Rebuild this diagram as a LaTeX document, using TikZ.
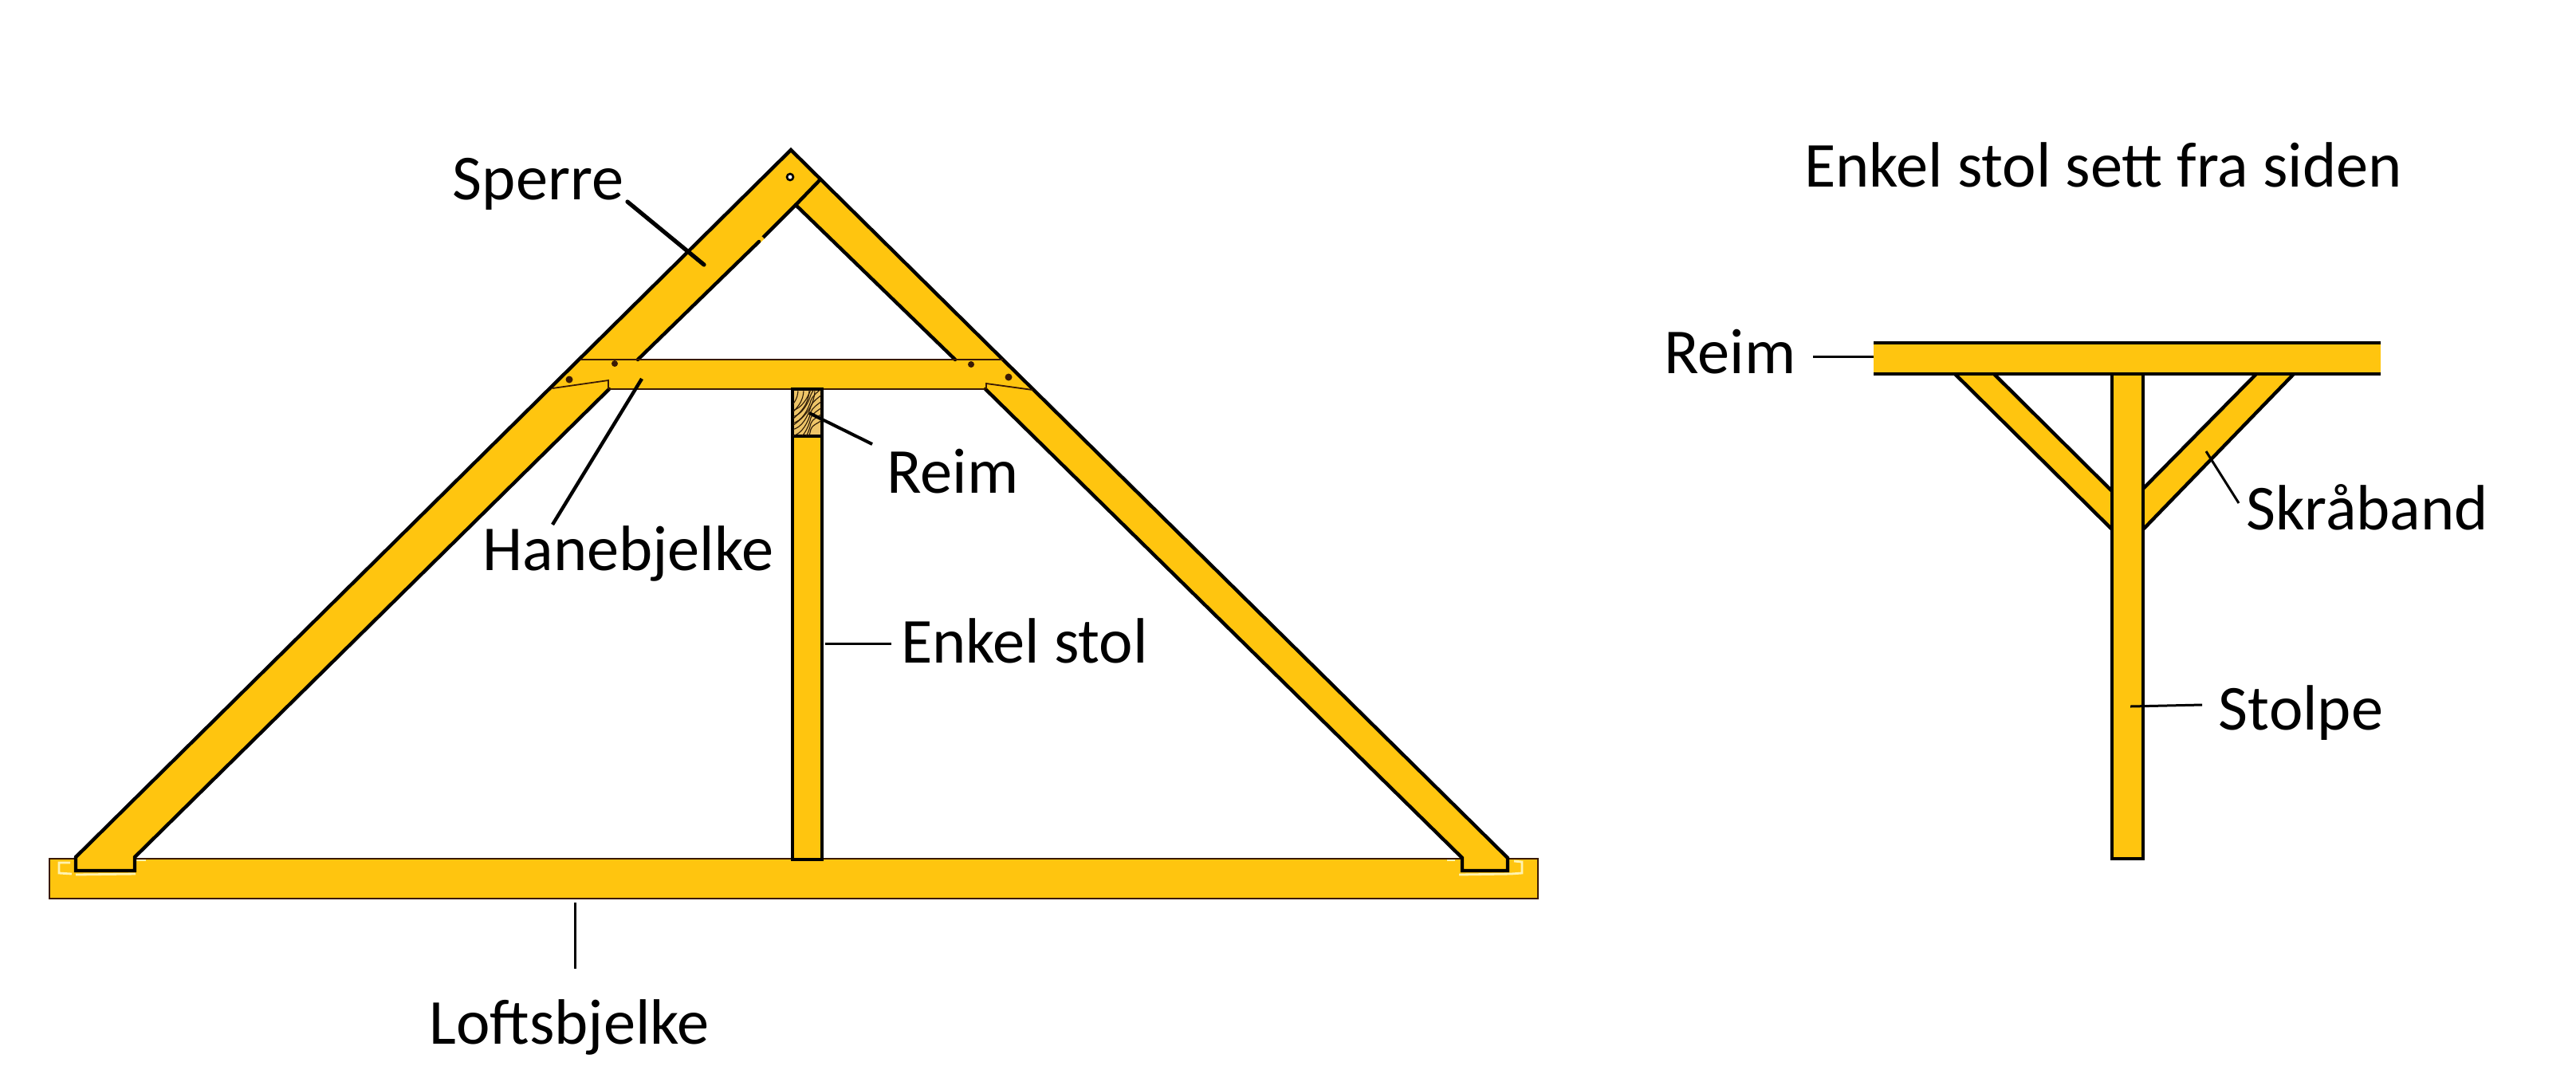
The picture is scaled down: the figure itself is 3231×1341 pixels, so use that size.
\documentclass[tikz,border=0pt]{standalone}
\usepackage{fontspec}
\setmainfont{Carlito}
\definecolor{wood}{HTML}{FFC50F}
\definecolor{block}{HTML}{EDC468}
\definecolor{thinline}{HTML}{3A1A05}
\definecolor{grain}{HTML}{2A1805}
\definecolor{pale}{HTML}{FFF3B0}
\tikzset{
 x=0.5pt,y=-0.5pt,
 timber/.style={fill=wood,draw=none},
 edge/.style={draw=black,line width=2.2pt,line cap=round},
 thin edge/.style={draw=thinline,line width=0.9pt},
 leader/.style={draw=black,line width=1.5pt},
 label/.style={font=\fontsize{40.2}{46}\selectfont,text=black,inner sep=0pt,anchor=center},
 peg/.style={fill=thinline,draw=none},
 notch/.style={draw=pale,line width=1.4pt},
}
\begin{document}
\begin{tikzpicture}
\useasboundingbox (0,0) rectangle (3231,1341);
\fill[white] (0,0) rectangle (3231,1341);
% tie beam
\filldraw[timber,thin edge] (62,1077) rectangle (1929,1127);
\draw[notch] (88,1082) -- (74,1082) -- (74,1095) -- (90,1096);
\draw[notch] (95,1097) -- (170,1096);
\draw[notch] (171,1079) -- (183,1079);
\draw[notch] (1830,1097) -- (1895,1096) -- (1909,1095) -- (1909,1081) -- (1899,1080);
\draw[notch] (1815,1079) -- (1825,1079);
% rafters + collar
\fill[timber] (992,188) -- (1029,225) -- (1258,451) -- (1891,1076) -- (1891,1092) -- (1834,1092) -- (1834,1076) -- (1236,488)
  -- (764,488) -- (169,1075) -- (169,1092) -- (95,1092) -- (95,1075) -- (728,451) -- cycle;
\fill[white] (998,257) -- (1198,451) -- (800,451) -- cycle;
% outlines
\draw[edge] (95,1075) -- (992,188) -- (1258,451) -- (1891,1076) -- (1891,1092) -- (1834,1092) -- (1834,1076) -- (1236,488);
\draw[edge] (95,1075) -- (95,1092) -- (169,1092) -- (169,1075) -- (764,488);
\draw[edge] (1029,225) -- (998,257) -- (957,298);
\draw[wood,line width=2.2pt] (957,298) -- (952,303);
\draw[edge] (952,303) -- (800,451);
\draw[edge] (998,257) -- (1198,451);
\draw[thin edge] (728,451) -- (1258,451);
\draw[thin edge] (764,488) -- (1236,488);
\draw[thin edge] (693,487) -- (763,477) -- (763,488);
\draw[thin edge] (1237,488) -- (1237,481) -- (1295,489);
% pegs
\fill[peg] (714,476) circle (4.5);
\fill[peg] (771,456) circle (4);
\fill[peg] (1218,457) circle (4);
\fill[peg] (1265,473) circle (4.5);
\filldraw[fill=white,draw=black,line width=1.3pt] (991,222) circle (4);
% post
\filldraw[timber,edge,line cap=butt] (994,547) rectangle (1031,1078);
\filldraw[fill=block,edge,line cap=butt] (994,488) rectangle (1031,547);
\begin{scope}
\clip (995,489) rectangle (1030,546);
\foreach \t in {6,13,20,27}{
 \draw[grain,line width=0.55pt] (995+\t,488) .. controls (995+\t,500+\t*0.5) and (990+\t*0.5,500+\t) .. (993,505+\t*1.1);
}
\foreach \k in {0,8,...,56}{
 \draw[grain,line width=0.55pt] (993,515+\k) .. controls (1006,513+\k) and (1014,497+\k) .. (1017,488+\k*0.9) .. controls (1019,482+\k*0.9) and (1025,476+\k) .. (1032,470+\k);
}
\end{scope}
% side view
\fill[timber] (2452,469) -- (2501,469) -- (2648,615) -- (2648,663) -- cycle;
\fill[timber] (2877,469) -- (2830,469) -- (2688,613) -- (2688,663) -- cycle;
\draw[edge] (2452,469) -- (2648,663);
\draw[edge] (2501,469) -- (2648,615);
\draw[edge] (2877,469) -- (2689,663);
\draw[edge] (2830,469) -- (2688,613);
\filldraw[timber,draw=black,line width=1.9pt] (2649,469) rectangle (2688,1077);
\fill[wood] (2350,430) rectangle (2986,469);
\draw[edge,line cap=butt] (2350,430) -- (2986,430);
\draw[edge,line cap=butt] (2350,469) -- (2986,469);
% labels
\node[label] (sperre) at (675,231) {Sperre};
\node[label] (hane) at (788,694) {Hanebjelke};
\node[label] (reimA) at (1195,591) {Reim};
\node[label] (enkel) at (1285,804) {Enkel stol};
\node[label] (loft) at (714,1288) {Loftsbjelke};
\node[label] (title) at (2638,207) {Enkel stol sett fra siden};
\node[label] (reimB) at (2170,441) {Reim};
\node[label] (skra) at (2969,636) {Skråband};
\node[label] (stolpe) at (2886,894) {Stolpe};
% leaders
\coordinate (a1) at (787,253); \coordinate (a2) at (883,332);
\coordinate (b1) at (693,658); \coordinate (b2) at (805,475);
\coordinate (c1) at (1094,557); \coordinate (c2) at (1015,518);
\coordinate (d1) at (1118,807); \coordinate (d2) at (1035,807);
\coordinate (e1) at (721,1215); \coordinate (e2) at (721,1132);
\coordinate (f1) at (2274,447); \coordinate (f2) at (2350,447);
\coordinate (g1) at (2808,631); \coordinate (g2) at (2767,566);
\coordinate (h1) at (2762,884); \coordinate (h2) at (2672,886);
\draw[leader,line width=2.6pt,line cap=round] (a1) -- (a2);
\draw[leader,line width=2.2pt] (b1) -- (b2);
\draw[leader,line width=2pt] (c1) -- (c2);
\draw[leader] (d1) -- (d2);
\draw[leader] (e1) -- (e2);
\draw[leader] (f1) -- (f2);
\draw[leader] (g1) -- (g2);
\draw[leader] (h1) -- (h2);
\end{tikzpicture}
\end{document}
